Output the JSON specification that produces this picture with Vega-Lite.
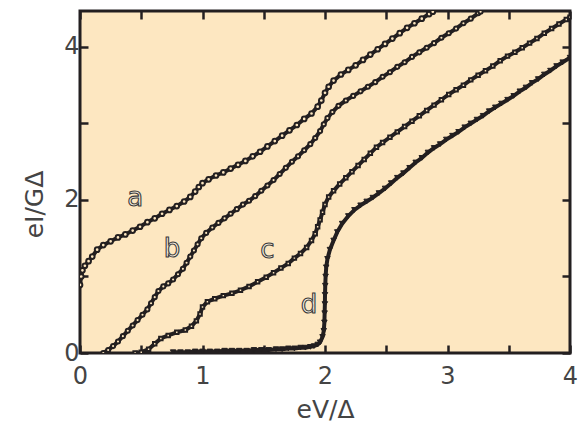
{
  "$schema": "https://vega.github.io/schema/vega-lite/v6.json",
  "width": 490,
  "height": 342,
  "autosize": {"type": "none"},
  "padding": {"left": 80, "top": 11, "right": 9, "bottom": 74},
  "background": "#ffffff",
  "datasets": {
    "curves": [
      {"s":"a","x":0.00,"y":0.89},{"s":"a","x":0.01,"y":1.00},{"s":"a","x":0.02,"y":1.08},{"s":"a","x":0.04,"y":1.14},{"s":"a","x":0.07,"y":1.20},{"s":"a","x":0.10,"y":1.26},{"s":"a","x":0.14,"y":1.35},{"s":"a","x":0.19,"y":1.41},{"s":"a","x":0.25,"y":1.46},{"s":"a","x":0.31,"y":1.51},{"s":"a","x":0.37,"y":1.55},{"s":"a","x":0.43,"y":1.60},{"s":"a","x":0.49,"y":1.65},{"s":"a","x":0.55,"y":1.71},{"s":"a","x":0.61,"y":1.76},{"s":"a","x":0.67,"y":1.82},{"s":"a","x":0.73,"y":1.87},{"s":"a","x":0.79,"y":1.92},{"s":"a","x":0.85,"y":1.98},{"s":"a","x":0.90,"y":2.04},{"s":"a","x":0.94,"y":2.11},{"s":"a","x":0.97,"y":2.17},{"s":"a","x":1.00,"y":2.22},{"s":"a","x":1.05,"y":2.27},{"s":"a","x":1.11,"y":2.32},{"s":"a","x":1.17,"y":2.36},{"s":"a","x":1.23,"y":2.41},{"s":"a","x":1.29,"y":2.46},{"s":"a","x":1.35,"y":2.51},{"s":"a","x":1.41,"y":2.57},{"s":"a","x":1.47,"y":2.63},{"s":"a","x":1.53,"y":2.70},{"s":"a","x":1.59,"y":2.77},{"s":"a","x":1.65,"y":2.84},{"s":"a","x":1.71,"y":2.91},{"s":"a","x":1.77,"y":2.98},{"s":"a","x":1.83,"y":3.06},{"s":"a","x":1.89,"y":3.13},{"s":"a","x":1.94,"y":3.22},{"s":"a","x":1.97,"y":3.30},{"s":"a","x":2.00,"y":3.40},{"s":"a","x":2.03,"y":3.48},{"s":"a","x":2.07,"y":3.56},{"s":"a","x":2.13,"y":3.64},{"s":"a","x":2.19,"y":3.70},{"s":"a","x":2.25,"y":3.76},{"s":"a","x":2.31,"y":3.83},{"s":"a","x":2.37,"y":3.90},{"s":"a","x":2.43,"y":3.97},{"s":"a","x":2.49,"y":4.04},{"s":"a","x":2.55,"y":4.11},{"s":"a","x":2.61,"y":4.18},{"s":"a","x":2.67,"y":4.25},{"s":"a","x":2.73,"y":4.31},{"s":"a","x":2.79,"y":4.37},{"s":"a","x":2.85,"y":4.43},{"s":"a","x":2.88,"y":4.46},
      {"s":"b","x":0.19,"y":0.00},{"s":"b","x":0.23,"y":0.04},{"s":"b","x":0.27,"y":0.09},{"s":"b","x":0.31,"y":0.15},{"s":"b","x":0.35,"y":0.22},{"s":"b","x":0.39,"y":0.29},{"s":"b","x":0.43,"y":0.36},{"s":"b","x":0.47,"y":0.43},{"s":"b","x":0.51,"y":0.50},{"s":"b","x":0.55,"y":0.57},{"s":"b","x":0.58,"y":0.65},{"s":"b","x":0.61,"y":0.73},{"s":"b","x":0.64,"y":0.81},{"s":"b","x":0.68,"y":0.87},{"s":"b","x":0.72,"y":0.91},{"s":"b","x":0.76,"y":0.96},{"s":"b","x":0.80,"y":1.03},{"s":"b","x":0.84,"y":1.10},{"s":"b","x":0.87,"y":1.18},{"s":"b","x":0.90,"y":1.26},{"s":"b","x":0.93,"y":1.34},{"s":"b","x":0.96,"y":1.42},{"s":"b","x":0.99,"y":1.50},{"s":"b","x":1.03,"y":1.57},{"s":"b","x":1.08,"y":1.64},{"s":"b","x":1.13,"y":1.70},{"s":"b","x":1.18,"y":1.76},{"s":"b","x":1.23,"y":1.82},{"s":"b","x":1.28,"y":1.88},{"s":"b","x":1.33,"y":1.94},{"s":"b","x":1.38,"y":1.99},{"s":"b","x":1.43,"y":2.05},{"s":"b","x":1.48,"y":2.12},{"s":"b","x":1.53,"y":2.19},{"s":"b","x":1.58,"y":2.26},{"s":"b","x":1.63,"y":2.34},{"s":"b","x":1.68,"y":2.42},{"s":"b","x":1.73,"y":2.50},{"s":"b","x":1.78,"y":2.57},{"s":"b","x":1.83,"y":2.65},{"s":"b","x":1.88,"y":2.73},{"s":"b","x":1.92,"y":2.81},{"s":"b","x":1.96,"y":2.90},{"s":"b","x":1.99,"y":2.99},{"s":"b","x":2.02,"y":3.07},{"s":"b","x":2.06,"y":3.15},{"s":"b","x":2.11,"y":3.23},{"s":"b","x":2.17,"y":3.30},{"s":"b","x":2.23,"y":3.36},{"s":"b","x":2.29,"y":3.42},{"s":"b","x":2.35,"y":3.48},{"s":"b","x":2.41,"y":3.54},{"s":"b","x":2.47,"y":3.61},{"s":"b","x":2.53,"y":3.67},{"s":"b","x":2.59,"y":3.74},{"s":"b","x":2.65,"y":3.80},{"s":"b","x":2.71,"y":3.87},{"s":"b","x":2.77,"y":3.93},{"s":"b","x":2.83,"y":3.99},{"s":"b","x":2.89,"y":4.05},{"s":"b","x":2.95,"y":4.12},{"s":"b","x":3.01,"y":4.18},{"s":"b","x":3.07,"y":4.24},{"s":"b","x":3.13,"y":4.31},{"s":"b","x":3.19,"y":4.37},{"s":"b","x":3.25,"y":4.44},{"s":"b","x":3.27,"y":4.46},
      {"s":"c","x":0.45,"y":0.00},{"s":"c","x":0.50,"y":0.01},{"s":"c","x":0.56,"y":0.05},{"s":"c","x":0.61,"y":0.12},{"s":"c","x":0.66,"y":0.19},{"s":"c","x":0.72,"y":0.23},{"s":"c","x":0.79,"y":0.27},{"s":"c","x":0.86,"y":0.30},{"s":"c","x":0.91,"y":0.35},{"s":"c","x":0.95,"y":0.42},{"s":"c","x":0.98,"y":0.51},{"s":"c","x":1.00,"y":0.60},{"s":"c","x":1.04,"y":0.67},{"s":"c","x":1.10,"y":0.71},{"s":"c","x":1.17,"y":0.75},{"s":"c","x":1.24,"y":0.78},{"s":"c","x":1.31,"y":0.82},{"s":"c","x":1.38,"y":0.87},{"s":"c","x":1.45,"y":0.93},{"s":"c","x":1.52,"y":0.99},{"s":"c","x":1.58,"y":1.05},{"s":"c","x":1.64,"y":1.11},{"s":"c","x":1.70,"y":1.17},{"s":"c","x":1.75,"y":1.24},{"s":"c","x":1.80,"y":1.30},{"s":"c","x":1.85,"y":1.38},{"s":"c","x":1.89,"y":1.47},{"s":"c","x":1.92,"y":1.56},{"s":"c","x":1.94,"y":1.65},{"s":"c","x":1.96,"y":1.74},{"s":"c","x":1.98,"y":1.84},{"s":"c","x":2.00,"y":1.94},{"s":"c","x":2.03,"y":2.04},{"s":"c","x":2.07,"y":2.12},{"s":"c","x":2.12,"y":2.21},{"s":"c","x":2.17,"y":2.29},{"s":"c","x":2.22,"y":2.37},{"s":"c","x":2.27,"y":2.45},{"s":"c","x":2.32,"y":2.53},{"s":"c","x":2.37,"y":2.61},{"s":"c","x":2.42,"y":2.69},{"s":"c","x":2.47,"y":2.75},{"s":"c","x":2.53,"y":2.82},{"s":"c","x":2.59,"y":2.89},{"s":"c","x":2.65,"y":2.96},{"s":"c","x":2.71,"y":3.03},{"s":"c","x":2.77,"y":3.10},{"s":"c","x":2.83,"y":3.17},{"s":"c","x":2.89,"y":3.24},{"s":"c","x":2.95,"y":3.31},{"s":"c","x":3.01,"y":3.38},{"s":"c","x":3.07,"y":3.44},{"s":"c","x":3.13,"y":3.50},{"s":"c","x":3.19,"y":3.57},{"s":"c","x":3.25,"y":3.63},{"s":"c","x":3.31,"y":3.69},{"s":"c","x":3.37,"y":3.75},{"s":"c","x":3.43,"y":3.82},{"s":"c","x":3.49,"y":3.88},{"s":"c","x":3.55,"y":3.93},{"s":"c","x":3.61,"y":3.99},{"s":"c","x":3.67,"y":4.05},{"s":"c","x":3.73,"y":4.11},{"s":"c","x":3.79,"y":4.18},{"s":"c","x":3.85,"y":4.24},{"s":"c","x":3.91,"y":4.30},{"s":"c","x":3.97,"y":4.36},{"s":"c","x":4.00,"y":4.39}
    ],
    "dcurve": [
      {"s":"d","x":0.76,"y":0.01},{"s":"d","x":0.82,"y":0.01},{"s":"d","x":0.88,"y":0.01},{"s":"d","x":0.94,"y":0.02},{"s":"d","x":1.00,"y":0.02},{"s":"d","x":1.06,"y":0.02},{"s":"d","x":1.12,"y":0.02},{"s":"d","x":1.18,"y":0.03},{"s":"d","x":1.24,"y":0.03},{"s":"d","x":1.30,"y":0.03},{"s":"d","x":1.36,"y":0.03},{"s":"d","x":1.42,"y":0.04},{"s":"d","x":1.48,"y":0.04},{"s":"d","x":1.54,"y":0.04},{"s":"d","x":1.60,"y":0.05},{"s":"d","x":1.65,"y":0.05},{"s":"d","x":1.70,"y":0.06},{"s":"d","x":1.75,"y":0.06},{"s":"d","x":1.80,"y":0.07},{"s":"d","x":1.84,"y":0.07},{"s":"d","x":1.88,"y":0.08},{"s":"d","x":1.91,"y":0.09},{"s":"d","x":1.94,"y":0.11},{"s":"d","x":1.96,"y":0.14},{"s":"d","x":1.98,"y":0.21},{"s":"d","x":1.99,"y":0.29},{"s":"d","x":1.995,"y":0.40},{"s":"d","x":1.997,"y":0.52},{"s":"d","x":1.999,"y":0.64},{"s":"d","x":2.0,"y":0.76},{"s":"d","x":2.002,"y":0.88},{"s":"d","x":2.005,"y":1.00},{"s":"d","x":2.01,"y":1.12},{"s":"d","x":2.02,"y":1.23},{"s":"d","x":2.04,"y":1.35},{"s":"d","x":2.07,"y":1.47},{"s":"d","x":2.10,"y":1.58},{"s":"d","x":2.14,"y":1.69},{"s":"d","x":2.19,"y":1.79},{"s":"d","x":2.24,"y":1.87},{"s":"d","x":2.29,"y":1.93},{"s":"d","x":2.34,"y":1.98},{"s":"d","x":2.39,"y":2.03},{"s":"d","x":2.44,"y":2.09},{"s":"d","x":2.49,"y":2.15},{"s":"d","x":2.54,"y":2.22},{"s":"d","x":2.59,"y":2.29},{"s":"d","x":2.64,"y":2.35},{"s":"d","x":2.69,"y":2.42},{"s":"d","x":2.74,"y":2.49},{"s":"d","x":2.79,"y":2.55},{"s":"d","x":2.84,"y":2.62},{"s":"d","x":2.89,"y":2.68},{"s":"d","x":2.94,"y":2.73},{"s":"d","x":2.99,"y":2.79},{"s":"d","x":3.04,"y":2.84},{"s":"d","x":3.09,"y":2.89},{"s":"d","x":3.14,"y":2.95},{"s":"d","x":3.19,"y":3.00},{"s":"d","x":3.24,"y":3.05},{"s":"d","x":3.29,"y":3.10},{"s":"d","x":3.34,"y":3.16},{"s":"d","x":3.39,"y":3.21},{"s":"d","x":3.44,"y":3.26},{"s":"d","x":3.49,"y":3.31},{"s":"d","x":3.54,"y":3.36},{"s":"d","x":3.59,"y":3.42},{"s":"d","x":3.64,"y":3.47},{"s":"d","x":3.69,"y":3.53},{"s":"d","x":3.74,"y":3.58},{"s":"d","x":3.79,"y":3.64},{"s":"d","x":3.84,"y":3.69},{"s":"d","x":3.89,"y":3.75},{"s":"d","x":3.94,"y":3.80},{"s":"d","x":4.00,"y":3.86}
    ],
    "labels": [
      {"t":"a","x":0.45,"y":2.03},
      {"t":"b","x":0.75,"y":1.36},
      {"t":"c","x":1.53,"y":1.35},
      {"t":"d","x":1.87,"y":0.63}
    ]
  },
  "layer": [
    {
      "data": {"name": "curves"},
      "mark": {"type": "line", "color": "#231f20", "strokeWidth": 4, "clip": true},
      "encoding": {
        "x": {"field": "x", "type": "quantitative",
              "scale": {"domain": [0, 4], "nice": false, "zero": false},
              "axis": {"orient": "bottom", "title": "eV/Δ",
                       "values": [0, 0.5, 1, 1.5, 2, 2.5, 3, 3.5, 4],
                       "tickSize": -8, "labelFlush": false,
                       "labelExpr": "datum.value % 1 === 0 ? '' + datum.value : ''",
                       "labelPadding": 19, "titlePadding": 9}},
        "y": {"field": "y", "type": "quantitative",
              "scale": {"domain": [0, 4.47], "nice": false, "zero": false},
              "axis": {"orient": "left", "title": "eI/GΔ",
                       "values": [0, 1, 2, 3, 4],
                       "tickSize": -8, "labelFlush": false,
                       "labelExpr": "datum.value % 2 === 0 ? '' + datum.value : ''",
                       "labelPadding": 9, "titlePadding": 16, "titleY": 193}},
        "detail": {"field": "s"}
      }
    },
    {
      "data": {"name": "curves"},
      "mark": {"type": "point", "filled": true, "stroke": "#231f20", "strokeWidth": 2, "opacity": 1, "clip": true},
      "encoding": {
        "x": {"field": "x", "type": "quantitative",
              "axis": {"orient": "top", "title": null, "labels": false,
                       "values": [0, 0.5, 1, 1.5, 2, 2.5, 3, 3.5, 4], "tickSize": -8}},
        "y": {"field": "y", "type": "quantitative",
              "axis": {"orient": "right", "title": null, "labels": false,
                       "values": [0, 1, 2, 3, 4], "tickSize": -8}},
        "shape": {"field": "s", "type": "nominal", "legend": null,
                  "scale": {"domain": ["a", "b", "c"], "range": ["circle", "circle", "square"]}},
        "size": {"field": "s", "type": "nominal", "legend": null,
                 "scale": {"domain": ["a", "b", "c"], "range": [22, 12, 20]}},
        "fill": {"value": "#fde7c1"}
      }
    },
    {
      "data": {"name": "dcurve"},
      "mark": {"type": "line", "color": "#231f20", "strokeWidth": 4, "clip": true},
      "encoding": {
        "x": {"field": "x", "type": "quantitative", "axis": null},
        "y": {"field": "y", "type": "quantitative", "axis": null}
      }
    },
    {
      "data": {"name": "dcurve"},
      "mark": {"type": "point", "shape": "triangle-down", "filled": true, "fill": "#231f20", "stroke": "#231f20", "strokeWidth": 1, "size": 30, "opacity": 1, "clip": true},
      "encoding": {
        "x": {"field": "x", "type": "quantitative", "axis": null},
        "y": {"field": "y", "type": "quantitative", "axis": null}
      }
    },
    {
      "data": {"name": "labels"},
      "mark": {"type": "text", "font": "DejaVu Sans", "fontSize": 26, "fill": "#fbf3e2", "stroke": "#3a3a3a", "strokeWidth": 1.1, "baseline": "middle", "align": "center"},
      "encoding": {
        "x": {"field": "x", "type": "quantitative", "axis": null},
        "y": {"field": "y", "type": "quantitative", "axis": null},
        "text": {"field": "t"}
      }
    }
  ],
  "resolve": {"axis": {"x": "independent", "y": "independent"}},
  "config": {
    "view": {"stroke": "#231f20", "strokeWidth": 3, "fill": "#fde7c1"},
    "axis": {"domain": false, "grid": false, "tickColor": "#231f20", "tickWidth": 2.5, "zindex": 1,
             "labelFont": "DejaVu Sans", "labelFontSize": 24, "labelColor": "#444444",
             "titleFont": "DejaVu Sans", "titleFontSize": 25, "titleColor": "#444444", "titleFontWeight": "normal"}
  }
}
